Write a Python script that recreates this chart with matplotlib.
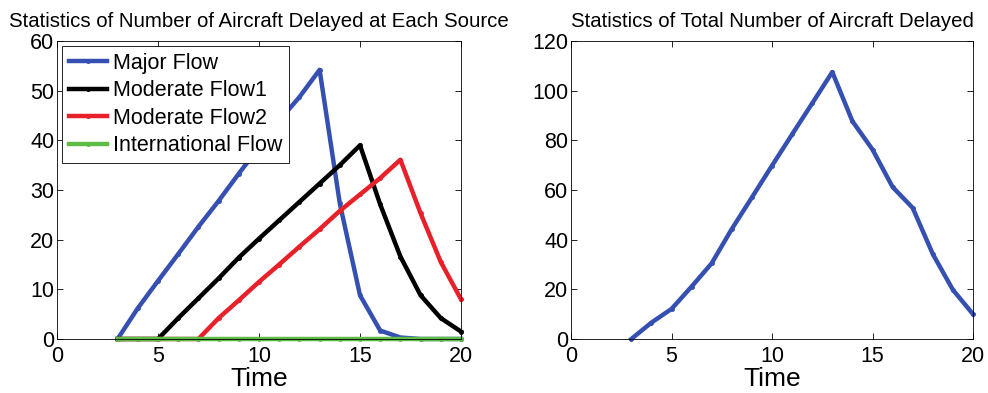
import matplotlib
matplotlib.use("Agg")
import matplotlib.pyplot as plt

plt.rcParams['font.family'] = ['Liberation Sans', 'DejaVu Sans']

time = list(range(3, 21))

major = [0, 6.2, 11.7, 17.1, 22.6, 27.8, 33.3, 38.6, 44.0, 48.7, 54.2,
         27.3, 8.8, 1.7, 0.3, 0, 0, 0]
moderate1 = [0, 0, 0, 4.2, 8.2, 12.2, 16.4, 20.2, 23.9, 27.6, 31.3,
             35.0, 39.0, 27.1, 16.6, 8.8, 4.2, 1.5]
moderate2 = [0, 0, 0, 0, 0, 4.2, 7.8, 11.5, 15.0, 18.6, 22.1,
             25.8, 29.1, 32.4, 36.1, 25.3, 15.5, 8.0]
international = [0] * 18
total = [0, 6.6, 12.1, 21.1, 30.5, 44.3, 57.0, 69.8, 82.4, 94.9, 107.5,
         87.7, 76.3, 61.2, 52.8, 34.2, 19.8, 10.0]

series = [
    ("Major Flow", major, "#3550b0"),
    ("Moderate Flow1", moderate1, "black"),
    ("Moderate Flow2", moderate2, "#e8202a"),
    ("International Flow", international, "#5dbb46"),
]

fig = plt.figure(figsize=(9.88, 3.93), dpi=100)
ax1 = fig.add_axes([57 / 988, 1 - 339 / 393, 404 / 988, 298 / 393])
ax2 = fig.add_axes([571 / 988, 1 - 339 / 393, 402 / 988, 298 / 393])

for name, vals, col in series:
    ax1.plot(time, vals, color=col, lw=3.2, marker='.', ms=5, label=name, clip_on=False)

ax2.plot(time, total, color="#3550b0", lw=3.2, marker='.', ms=5, clip_on=False)

ax1.set_ylim(0, 60)
ax1.set_yticks([0, 10, 20, 30, 40, 50, 60])
ax2.set_ylim(0, 120)
ax2.set_yticks([0, 20, 40, 60, 80, 100, 120])

for ax in (ax1, ax2):
    ax.set_xlim(0, 20)
    ax.set_xticks([0, 5, 10, 15, 20])
    ax.tick_params(direction='in', top=True, right=True, labelsize=15.5,
                   length=4, width=0.6, pad=2)
    ax.tick_params(axis='x', pad=5)
    ax.set_xlabel("Time", fontsize=19, labelpad=0)
    for s in ax.spines.values():
        s.set_linewidth(0.6)

ax1.set_title("Statistics of Number of Aircraft Delayed at Each Source", fontsize=14.7, pad=10)
ax2.set_title("Statistics of Total Number of Aircraft Delayed", fontsize=14.7, pad=10)

leg = ax1.legend(loc='upper left', fontsize=15.5, handlelength=1.75, borderaxespad=0.25,
                 labelspacing=0.3, handletextpad=0.3, borderpad=0.3,
                 fancybox=False, framealpha=1)
leg.get_frame().set_edgecolor('black')
leg.get_frame().set_linewidth(0.6)

fig.savefig("out.png", dpi=100)
